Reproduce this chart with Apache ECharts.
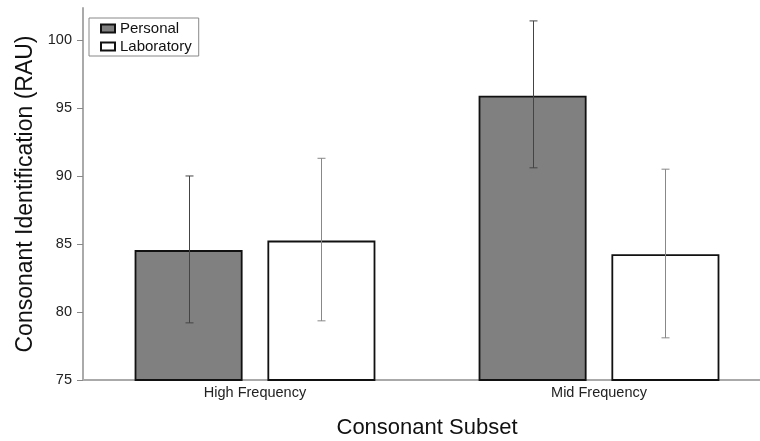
<!DOCTYPE html>
<html>
<head>
<meta charset="utf-8">
<script src="https://cdn.jsdelivr.net/npm/echarts@6/dist/echarts.min.js"></script>
<style>
html,body{margin:0;padding:0;background:#fff;}
#chart{width:760px;height:441px;}
</style>
</head>
<body>
<div id="chart"></div>
<script>
var categories = ['High Frequency', 'Mid Frequency'];
var seriesNames = ['Personal', 'Laboratory'];
var personal = [84.55, 95.9];
var laboratory = [85.25, 84.25];
var personalLow = [79.2, 90.6];
var personalHigh = [90.0, 101.4];
var laboratoryLow = [79.35, 78.1];
var laboratoryHigh = [91.3, 90.5];
var yTicks = [75, 80, 85, 90, 95, 100];

var FONT = 'Liberation Sans, Arial, sans-serif';
var CAT_GAP = 0.30, BAR_GAP = 0.23;

function errData(lo, hi) {
  return categories.map(function (c, i) { return [i, lo[i], hi[i]]; });
}
function makeErr(idx, color, lo, hi) {
  return {
    type: 'custom',
    name: seriesNames[idx] + ' error',
    z: 10,
    silent: true,
    encode: { x: 0, y: [1, 2] },
    data: errData(lo, hi),
    renderItem: function (params, api) {
      var ci = api.value(0);
      var band = api.size([1, 0])[0];
      var usable = band * (1 - CAT_GAP);
      var bw = usable / (2 + BAR_GAP);
      var off = (bw + bw * BAR_GAP) / 2 * (idx === 0 ? -1 : 1);
      var pLo = api.coord([ci, api.value(1)]);
      var pHi = api.coord([ci, api.value(2)]);
      var x = Math.round(pLo[0] + off) + 0.5;
      var cap = 4;
      var st = { stroke: color, lineWidth: 1 };
      return {
        type: 'group',
        children: [
          { type: 'line', shape: { x1: x, y1: pLo[1], x2: x, y2: pHi[1] }, style: st },
          { type: 'line', shape: { x1: x - cap, y1: pLo[1], x2: x + cap, y2: pLo[1] }, style: st },
          { type: 'line', shape: { x1: x - cap, y1: pHi[1], x2: x + cap, y2: pHi[1] }, style: st }
        ]
      };
    }
  };
}

var chart = echarts.init(document.getElementById('chart'), null, { renderer: 'canvas' });
chart.setOption({
  animation: false,
  backgroundColor: '#fff',
  textStyle: { fontFamily: FONT },
  grid: { left: 83, top: 8, right: -11, bottom: 61, containLabel: false, outerBoundsMode: 'none' },
  legend: {
    data: seriesNames,
    orient: 'vertical',
    left: 89,
    top: 18,
    padding: [3, 7, 2, 11],
    itemGap: 3,
    itemWidth: 14,
    itemHeight: 8,
    itemTextGap: 6,
    icon: 'rect',
    borderColor: '#888',
    borderWidth: 1,
    textStyle: { fontFamily: FONT, fontSize: 15, color: '#111' }
  },
  xAxis: {
    type: 'category',
    data: categories,
    name: 'Consonant Subset',
    nameLocation: 'middle',
    nameGap: 37,
    nameTextStyle: { fontFamily: FONT, fontSize: 22, color: '#111', verticalAlign: 'top' },
    axisLine: { lineStyle: { color: '#aaa', width: 2 } },
    axisTick: { show: false },
    axisLabel: { fontFamily: FONT, fontSize: 14.5, color: '#222', margin: 5 }
  },
  yAxis: {
    type: 'value',
    min: 75,
    max: 102.35,
    interval: 5,
    name: 'Consonant Identification (RAU)',
    nameLocation: 'middle',
    nameGap: 46,
    nameTextStyle: { fontFamily: FONT, fontSize: 23, color: '#111' },
    splitLine: { show: false },
    axisLine: { show: true, lineStyle: { color: '#aaa', width: 2 } },
    axisTick: { show: true, length: 6, customValues: yTicks, lineStyle: { color: '#888' } },
    axisLabel: { fontFamily: FONT, fontSize: 14.5, color: '#222', margin: 11, customValues: yTicks }
  },
  series: [
    {
      type: 'bar',
      name: seriesNames[0],
      data: personal,
      barCategoryGap: (CAT_GAP * 100) + '%',
      barGap: (BAR_GAP * 100) + '%',
      itemStyle: { color: '#808080', borderColor: '#111', borderWidth: 1.8 }
    },
    {
      type: 'bar',
      name: seriesNames[1],
      data: laboratory,
      barCategoryGap: (CAT_GAP * 100) + '%',
      barGap: (BAR_GAP * 100) + '%',
      itemStyle: { color: '#ffffff', borderColor: '#111', borderWidth: 1.8 }
    },
    makeErr(0, '#444', personalLow, personalHigh),
    makeErr(1, '#888', laboratoryLow, laboratoryHigh)
  ]
});
</script>
</body>
</html>
